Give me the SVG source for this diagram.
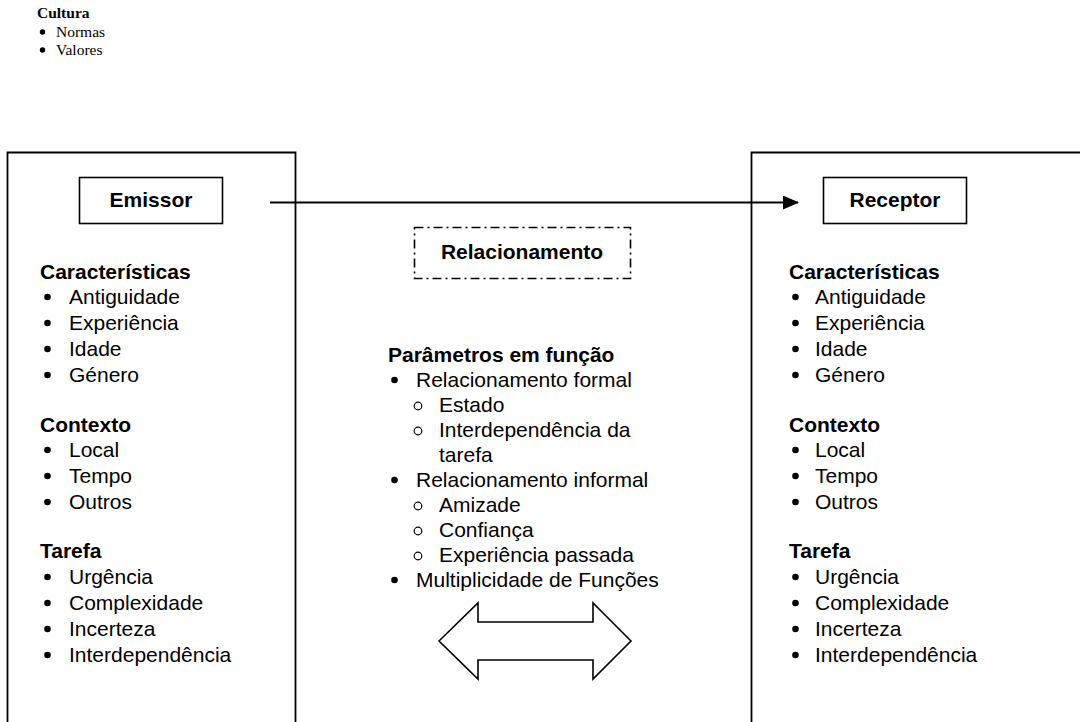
<svg xmlns="http://www.w3.org/2000/svg" width="1080" height="722" viewBox="0 0 1080 722">
  <style>
    .frame { fill: none; stroke: #000; stroke-width: 1.8; }
    .box { fill: #fff; stroke: #000; stroke-width: 1.6; }
    .dash { fill: none; stroke: #000; stroke-width: 1.6; stroke-dasharray: 9 4 2 4; }
    .t { font-family: "Liberation Sans", Arial, sans-serif; font-size: 21px; fill: #000; }
    .h { font-family: "Liberation Sans", Arial, sans-serif; font-size: 21px; font-weight: bold; fill: #000; }
    .ts { font-family: "Liberation Serif", "Times New Roman", serif; font-size: 15.5px; fill: #000; }
    .tsb { font-family: "Liberation Serif", "Times New Roman", serif; font-size: 15.5px; font-weight: bold; fill: #000; }
    .dot { fill: #000; }
    .ring { fill: none; stroke: #000; stroke-width: 1.2; }
    .conn { fill: none; stroke: #000; stroke-width: 1.8; }
  </style>
  <defs>
    <marker id="head" markerWidth="16" markerHeight="14" refX="15" refY="7" orient="auto" markerUnits="userSpaceOnUse" viewBox="0 0 16 14">
      <path d="M0,0 L16,7 L0,14 Z" fill="#000"/>
    </marker>
  </defs>

  <!-- Culture legend -->
  <g id="cultura">
    <text class="tsb" x="37" y="18">Cultura</text>
    <circle class="dot" cx="42.5" cy="32" r="2.7"/>
    <text class="ts" x="56" y="37">Normas</text>
    <circle class="dot" cx="42.5" cy="50" r="2.7"/>
    <text class="ts" x="56" y="55">Valores</text>
  </g>

  <!-- Sender panel -->
  <g id="emissor-panel">
    <path class="frame" d="M7.5,722 V152.5 H295.5 V722"/>
    <g id="emissor">
      <rect class="box" x="79.5" y="177.5" width="143" height="46"/>
      <text class="h" x="151" y="207" text-anchor="middle">Emissor</text>
    </g>
    <text class="h" x="40" y="279">Características</text>
    <g class="dot">
      <circle cx="47.5" cy="297" r="3.3"/><circle cx="47.5" cy="323" r="3.3"/>
      <circle cx="47.5" cy="349" r="3.3"/><circle cx="47.5" cy="375" r="3.3"/>
      <circle cx="47.5" cy="450" r="3.3"/><circle cx="47.5" cy="476" r="3.3"/>
      <circle cx="47.5" cy="502" r="3.3"/>
      <circle cx="47.5" cy="577" r="3.3"/><circle cx="47.5" cy="603" r="3.3"/>
      <circle cx="47.5" cy="629" r="3.3"/><circle cx="47.5" cy="655" r="3.3"/>
    </g>
    <text class="t" x="69" y="304">Antiguidade</text>
    <text class="t" x="69" y="330">Experiência</text>
    <text class="t" x="69" y="356">Idade</text>
    <text class="t" x="69" y="382">Género</text>
    <text class="h" x="40" y="432">Contexto</text>
    <text class="t" x="69" y="457">Local</text>
    <text class="t" x="69" y="483">Tempo</text>
    <text class="t" x="69" y="509">Outros</text>
    <text class="h" x="40" y="558">Tarefa</text>
    <text class="t" x="69" y="584">Urgência</text>
    <text class="t" x="69" y="610">Complexidade</text>
    <text class="t" x="69" y="636">Incerteza</text>
    <text class="t" x="69" y="662">Interdependência</text>
  </g>

  <!-- Receiver panel -->
  <g id="receptor-panel">
    <path class="frame" d="M751.5,722 V152.5 H1080"/>
    <g id="receptor">
      <rect class="box" x="823.5" y="177.5" width="143" height="46"/>
      <text class="h" x="895" y="207" text-anchor="middle">Receptor</text>
    </g>
    <text class="h" x="789" y="279">Características</text>
    <g class="dot">
      <circle cx="795.5" cy="297" r="3.3"/><circle cx="795.5" cy="323" r="3.3"/>
      <circle cx="795.5" cy="349" r="3.3"/><circle cx="795.5" cy="375" r="3.3"/>
      <circle cx="795.5" cy="450" r="3.3"/><circle cx="795.5" cy="476" r="3.3"/>
      <circle cx="795.5" cy="502" r="3.3"/>
      <circle cx="795.5" cy="577" r="3.3"/><circle cx="795.5" cy="603" r="3.3"/>
      <circle cx="795.5" cy="629" r="3.3"/><circle cx="795.5" cy="655" r="3.3"/>
    </g>
    <text class="t" x="815" y="304">Antiguidade</text>
    <text class="t" x="815" y="330">Experiência</text>
    <text class="t" x="815" y="356">Idade</text>
    <text class="t" x="815" y="382">Género</text>
    <text class="h" x="789" y="432">Contexto</text>
    <text class="t" x="815" y="457">Local</text>
    <text class="t" x="815" y="483">Tempo</text>
    <text class="t" x="815" y="509">Outros</text>
    <text class="h" x="789" y="558">Tarefa</text>
    <text class="t" x="815" y="584">Urgência</text>
    <text class="t" x="815" y="610">Complexidade</text>
    <text class="t" x="815" y="636">Incerteza</text>
    <text class="t" x="815" y="662">Interdependência</text>
  </g>

  <!-- Relationship block -->
  <g id="relacionamento">
    <rect class="dash" x="414.5" y="227.5" width="216" height="51"/>
    <text class="h" x="522" y="259" text-anchor="middle">Relacionamento</text>
    <text class="h" x="388" y="362">Parâmetros em função</text>
    <g class="dot">
      <circle cx="394.5" cy="380" r="3.3"/>
      <circle cx="394.5" cy="480" r="3.3"/>
      <circle cx="394.5" cy="580" r="3.3"/>
    </g>
    <g class="ring">
      <circle cx="418" cy="406" r="3.8"/>
      <circle cx="418" cy="431" r="3.8"/>
      <circle cx="418" cy="506" r="3.8"/>
      <circle cx="418" cy="531" r="3.8"/>
      <circle cx="418" cy="556" r="3.8"/>
    </g>
    <text class="t" x="416" y="387">Relacionamento formal</text>
    <text class="t" x="439" y="412">Estado</text>
    <text class="t" x="439" y="437">Interdependência da</text>
    <text class="t" x="439" y="462">tarefa</text>
    <text class="t" x="416" y="487">Relacionamento informal</text>
    <text class="t" x="439" y="512">Amizade</text>
    <text class="t" x="439" y="537">Confiança</text>
    <text class="t" x="439" y="562">Experiência passada</text>
    <text class="t" x="416" y="587">Multiplicidade de Funções</text>
  </g>

  <!-- Connectors -->
  <g id="connectors">
    <line class="conn" x1="270" y1="202.5" x2="798" y2="202.5" marker-end="url(#head)"/>
    <path id="double-arrow" d="M439,641 L478,603 V622 H593 V603 L631,641 L593,679 V660 H478 V679 Z" fill="#fff" stroke="#000" stroke-width="1.6" stroke-linejoin="miter"/>
  </g>
</svg>
